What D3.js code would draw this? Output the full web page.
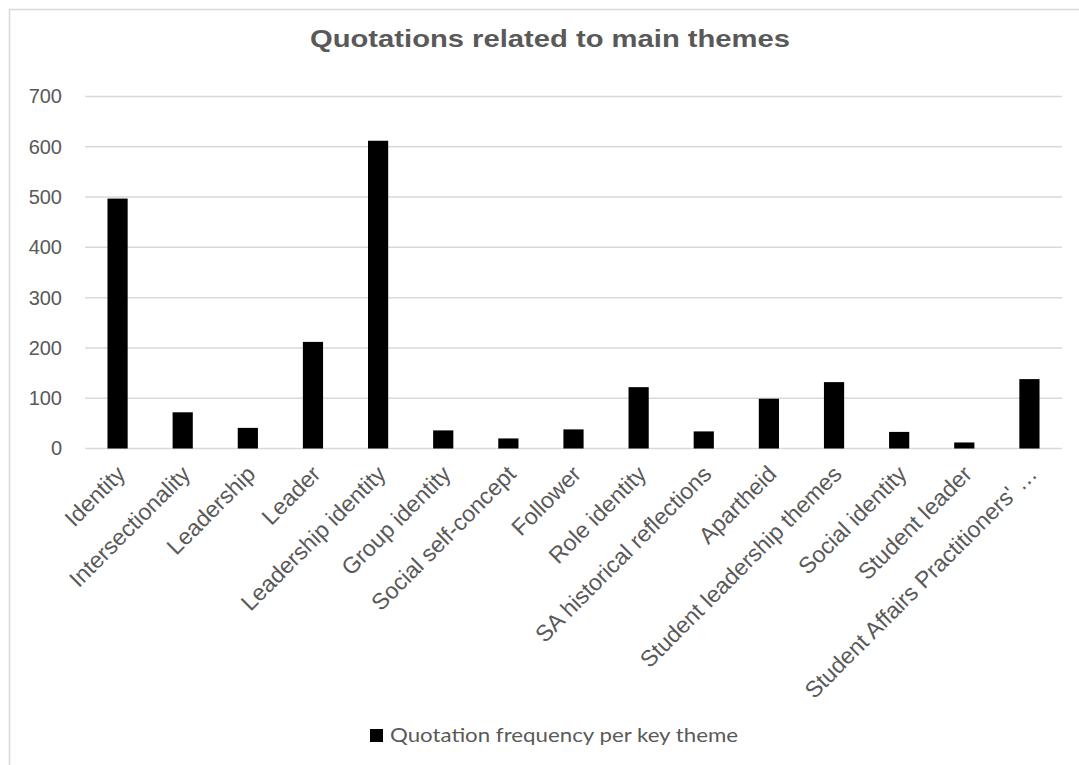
<!DOCTYPE html>
<html>
<head>
<meta charset="utf-8">
<style type="text/css">
	body{ margin:0; background:#fff; }
	svg{ display:block; }
</style>
<script src="https://cdn.jsdelivr.net/npm/d3@7/dist/d3.min.js"></script>
</head>
<body>
<svg id="svg" width="1079" height="765"></svg>
<script type="text/javascript">

	var categories = [
		"Identity", "Intersectionality", "Leadership", "Leader", "Leadership identity",
		"Group identity", "Social self-concept", "Follower", "Role identity",
		"SA historical reflections", "Apartheid", "Student leadership themes",
		"Social identity", "Student leader", "Student Affairs Practitioners' …"
	];
	var values = [497, 72, 41, 212, 612, 36, 20, 38, 122, 34, 99, 132, 33, 12, 138];
	var yTicks = [0, 100, 200, 300, 400, 500, 600, 700];
	var title = "Quotations related to main themes";
	var seriesName = "Quotation frequency per key theme";

	var svg = d3.select("#svg");
	var grey = "#595959";
	var arial = "'Liberation Sans', Arial, sans-serif";

	// chart border
	svg.append("rect").attr("x", 9.5).attr("y", 9.5).attr("width", 1080).attr("height", 770)
		.style("fill", "#fff").style("stroke", "#d9d9d9").style("stroke-width", 1.5);

	var x = d3.scaleBand().domain(categories).range([85, 1062]).paddingInner(0.69).paddingOuter(0.345);
	var y = d3.scaleLinear().domain([0, 700]).range([448.5, 96.5]);

	//gridlines
	svg.append("g").selectAll("line").data(yTicks).enter().append("line")
		.attr("x1", 85).attr("x2", 1062)
		.attr("y1", function(d){ return y(d); })
		.attr("y2", function(d){ return y(d); })
		.style("stroke", "#d9d9d9").style("stroke-width", 1.5);

	//y axis labels
	var yAxis = d3.axisLeft(y).tickValues(yTicks).tickSize(0).tickPadding(0);
	var gy = svg.append("g").attr("transform", "translate(62,0)").call(yAxis);
	gy.select(".domain").remove();
	gy.selectAll("text").style("font-family", arial)
		.style("font-size", "20px").style("fill", grey);

	//bars
	svg.append("g").selectAll("rect").data(values).enter().append("rect")
		.attr("x", function(d, i){ return x(categories[i]); })
		.attr("y", function(d){ return y(d); })
		.attr("width", x.bandwidth())
		.attr("height", function(d){ return y(0) - y(d); })
		.style("fill", "#000");

	//x labels
	var xAxis = d3.axisBottom(x).tickSize(0).tickPadding(0);
	var gx = svg.append("g").attr("transform", "translate(0," + y(0) + ")").call(xAxis);
	gx.select(".domain").remove();
	gx.selectAll("text")
		.attr("y", 0).attr("dy", 0)
		.attr("transform", "translate(9,27) rotate(-45)")
		.style("text-anchor", "end")
		.style("font-family", arial)
		.style("font-size", "23px").style("fill", grey);

	//title
	svg.append("text").attr("x", 550).attr("y", 47).attr("text-anchor", "middle")
		.style("font-family", arial)
		.style("font-size", "24px").style("font-weight", "bold").style("fill", grey)
		.attr("textLength", 480).attr("lengthAdjust", "spacingAndGlyphs")
		.text(title);

	//legend
	svg.append("rect").attr("x", 370).attr("y", 729).attr("width", 13).attr("height", 13).style("fill", "#000");
	svg.append("text").attr("x", 390).attr("y", 742)
		.style("font-family", "Lato, 'Open Sans', sans-serif")
		.style("font-size", "20px").style("fill", grey)
		.attr("textLength", 348).attr("lengthAdjust", "spacingAndGlyphs")
		.text(seriesName);

</script>
</body>
</html>
